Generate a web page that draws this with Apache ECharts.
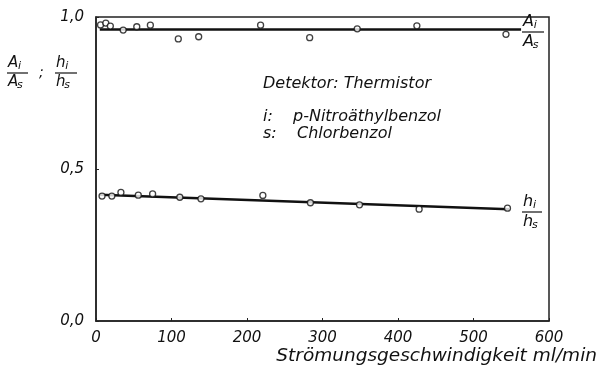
<!DOCTYPE html>
<html><head><meta charset="utf-8">
<script src="https://cdn.jsdelivr.net/npm/echarts@6/dist/echarts.min.js"></script>
<style>html,body{margin:0;padding:0;background:#fff}#c{width:600px;height:373px}</style>
</head><body><div id="c"></div>
<script>
// Data
const xTicks = [0, 100, 200, 300, 400, 500, 600];
const yTickLabels = ['0,0', '0,5', '1,0'];
const areaFlow = [6, 13, 19, 36, 54, 72, 109, 136, 218, 283, 346, 425, 543];
const areaRatio = [0.974, 0.980, 0.970, 0.957, 0.968, 0.973, 0.928, 0.935, 0.973, 0.932, 0.961, 0.971, 0.943];
const heightFlow = [8, 21, 33, 56, 75, 111, 139, 221, 284, 349, 428, 545];
const heightRatio = [0.411, 0.411, 0.423, 0.414, 0.418, 0.407, 0.402, 0.413, 0.389, 0.382, 0.368, 0.371];
const areaFitX = [5, 563];
const areaFitY = [0.959, 0.959];
const heightFitX = [5, 547];
const heightFitY = [0.415, 0.368];

const FONT = 'DejaVu Sans';
const chart = echarts.init(document.getElementById('c'), null, {renderer: 'canvas'});

function zip(xs, ys) { return xs.map((x, i) => [x, ys[i]]); }

function fraction(x, yBar, letter, w, fs) {
  const sub = Math.round(fs * 0.7);
  const off = letter === 'A' ? fs * 0.74 : fs * 0.68;
  const st = {fontFamily: FONT, fontStyle: 'italic', fill: '#111'};
  return [
    {type: 'text', x: x + 1, y: yBar - 2, style: Object.assign({text: letter, fontSize: fs, textVerticalAlign: 'bottom'}, st)},
    {type: 'text', x: x + off, y: yBar - 1, style: Object.assign({text: 'i', fontSize: sub, textVerticalAlign: 'bottom'}, st)},
    {type: 'line', shape: {x1: x, y1: yBar, x2: x + w, y2: yBar}, style: {stroke: '#111', lineWidth: 1.2}},
    {type: 'text', x: x + 1, y: yBar + 2, style: Object.assign({text: letter, fontSize: fs, textVerticalAlign: 'top'}, st)},
    {type: 'text', x: x + off - 1, y: yBar + fs * 0.45, style: Object.assign({text: 's', fontSize: sub, textVerticalAlign: 'top'}, st)}
  ];
}

const txt = (x, y, s, fs) => ({type: 'text', x: x, y: y, style: {text: s, fontFamily: FONT, fontStyle: 'italic', fontSize: fs, fill: '#111', textVerticalAlign: 'middle'}});

const graphics = [].concat(
  fraction(7, 73, 'A', 21, 15),
  [txt(39, 73, ';', 14)],
  fraction(55, 73, 'h', 22, 15),
  fraction(522, 32, 'A', 22, 16),
  fraction(522, 212, 'h', 20, 16),
  [txt(263, 84, 'Detektor: Thermistor', 16),
   txt(263, 117, 'i:', 16),
   txt(293, 117, 'p-Nitroäthylbenzol', 16),
   txt(263, 134, 's:', 16),
   txt(297, 134, 'Chlorbenzol', 16)]
);

chart.setOption({
  animation: false,
  backgroundColor: '#fff',
  grid: {left: 96, right: 50, top: 17, bottom: 52, show: true, borderColor: '#222', borderWidth: 1.5},
  xAxis: {
    type: 'value', min: 0, max: 600, interval: 100,
    name: 'Strömungsgeschwindigkeit ml/min', nameLocation: 'end',
    nameGap: 0,
    nameTextStyle: {fontFamily: FONT, fontStyle: 'italic', fontSize: 18.5, color: '#111', align: 'right', verticalAlign: 'top', padding: [26, -48, 0, 0]},
    axisLine: {lineStyle: {color: '#222', width: 1.5}},
    axisTick: {inside: true, length: 3, lineStyle: {color: '#222'}},
    axisLabel: {fontFamily: FONT, fontStyle: 'italic', fontSize: 15, color: '#111', margin: 10},
    splitLine: {show: false}
  },
  yAxis: {
    type: 'value', min: 0, max: 1, interval: 0.5,
    axisLine: {show: true, lineStyle: {color: '#222', width: 1.5}},
    axisTick: {show: true, inside: true, length: 3, lineStyle: {color: '#222'}},
    axisLabel: {fontFamily: FONT, fontStyle: 'italic', fontSize: 15, color: '#111', margin: 12,
      formatter: v => yTickLabels[Math.round(v * 2)]},
    splitLine: {show: false}
  },
  series: [
    {type: 'line', data: zip(areaFitX, areaFitY), showSymbol: false, lineStyle: {color: '#111', width: 2.5}, z: 2},
    {type: 'line', data: zip(heightFitX, heightFitY), showSymbol: false, lineStyle: {color: '#111', width: 2.5}, z: 2},
    {type: 'scatter', data: zip(areaFlow, areaRatio), symbol: 'circle', symbolSize: 6,
      itemStyle: {color: '#fff', borderColor: '#111', borderWidth: 1.3}, z: 3},
    {type: 'scatter', data: zip(heightFlow, heightRatio), symbol: 'circle', symbolSize: 6,
      itemStyle: {color: '#fff', borderColor: '#111', borderWidth: 1.3}, z: 3}
  ],
  graphic: graphics
});
</script></body></html>
